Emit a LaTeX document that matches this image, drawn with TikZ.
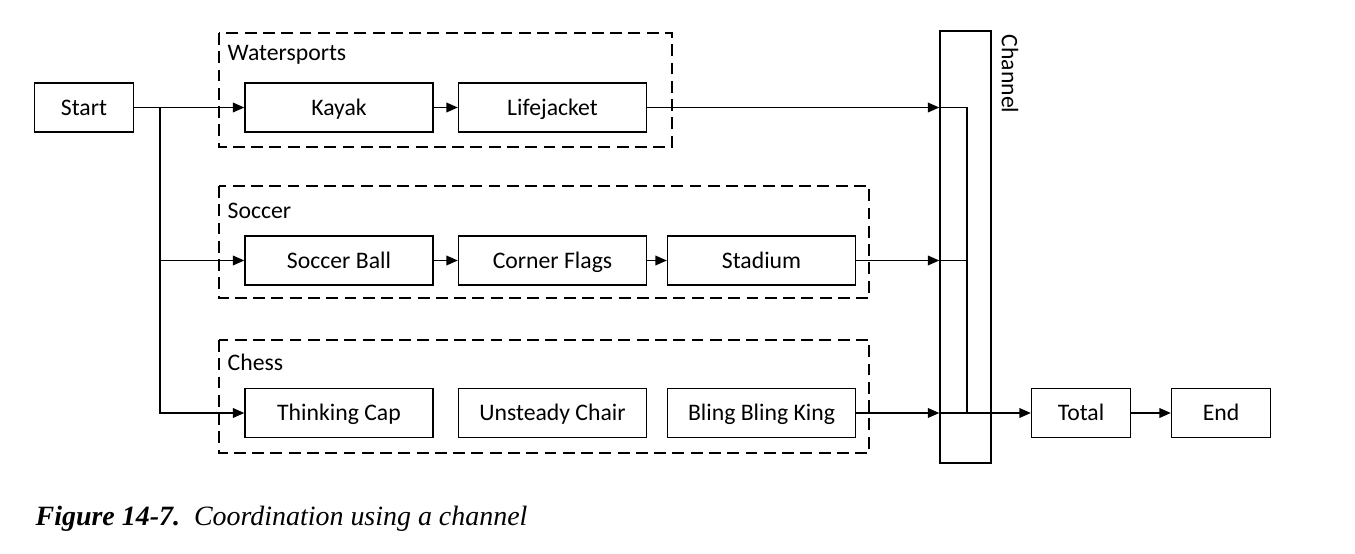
\documentclass[tikz,border=0pt]{standalone}
\usepackage{fontspec}
\setmainfont{Carlito}
\newfontfamily\capfont{Liberation Serif}
\usetikzlibrary{arrows.meta,positioning}

\tikzstyle{box} = [draw, line width=0.8pt, minimum width=3.76cm, minimum height=0.98cm, inner sep=0pt, text height=2.1ex, text depth=.3ex]
\tikzstyle{small} = [box, minimum width=1.98cm]
\tikzstyle{group} = [draw, line width=1.1pt, dash pattern=on 6.8pt off 3.6pt]
\tikzstyle{txt} = [anchor=west, inner sep=0pt]

\begin{document}
\begin{tikzpicture}[x=0.02cm, y=-0.02cm,
>={Triangle[length=6.5pt,width=5.5pt]},
line width=0.8pt,
font=\fontsize{13.5}{15}\selectfont,
]
\useasboundingbox (0,0) rectangle (1355,554);

%START
\node[small] (start) at (84,107.5) {Start};
\coordinate (split) at (160,107.5);

%WATERSPORTS
\draw[group] (219,33) rectangle (672,147);
\node[txt] (water) at (227,55) {Watersports};
\node[box] (kayak) at (339,107.5) {Kayak};
\node[box] (jacket) at (552.5,107.5) {Lifejacket};

%SOCCER
\draw[group] (219,186) rectangle (869,298);
\node[txt] (soccer) at (227,211) {Soccer};
\node[box] (ball) at (339,260.5) {Soccer Ball};
\node[box] (flags) at (552.5,260.5) {Corner Flags};
\node[box] (stadium) at (761.5,260.5) {Stadium};

%CHESS
\draw[group] (219,340) rectangle (869,453);
\node[txt] (chess) at (227,362) {Chess};
\node[box] (cap) at (339,413) {Thinking Cap};
\node[box] (chair) at (552.5,413) {Unsteady Chair};
\node[box] (king) at (761.5,413) {Bling Bling King};

%CHANNEL
\node[box, minimum width=1.02cm, minimum height=8.64cm] (channel) at (965.5,247) {};
\node[rotate=-90, anchor=north west, inner sep=0pt] (chlabel) at (1019,34) {Channel};
\coordinate (merge) at (967,413);

%TOTAL
\node[small] (total) at (1081,413) {Total};
\node[small] (end) at (1221,413) {End};

% arrows
\draw (start.east) -- (split);
\draw[->] (split) -- (kayak.west);
\draw[->] (split) |- (ball.west);
\draw[->] (split) |- (cap.west);
\draw[->] (kayak) -- (jacket);
\draw[->] (ball) -- (flags);
\draw[->] (flags) -- (stadium);

\draw[->] (jacket.east) -- (jacket.east -| channel.west);
\draw[->] (stadium.east) -- (stadium.east -| channel.west);
\draw[->] (king.east) -- (king.east -| channel.west);
\draw (jacket.east -| channel.west) -| (merge);
\draw (stadium.east -| channel.west) -- (stadium.east -| merge);
\draw (king.east -| channel.west) -- (merge);
\draw[->] (merge) -- (total.west);
\draw[->] (total) -- (end);

%CAPTION
\node[anchor=base west, inner sep=0pt, font=\capfont\fontsize{15.9}{18}\selectfont] (caption) at (35,525)
  {\textbf{\textit{Figure 14-7.}}\ \ \textit{Coordination using a channel}};

\end{tikzpicture}
\end{document}
